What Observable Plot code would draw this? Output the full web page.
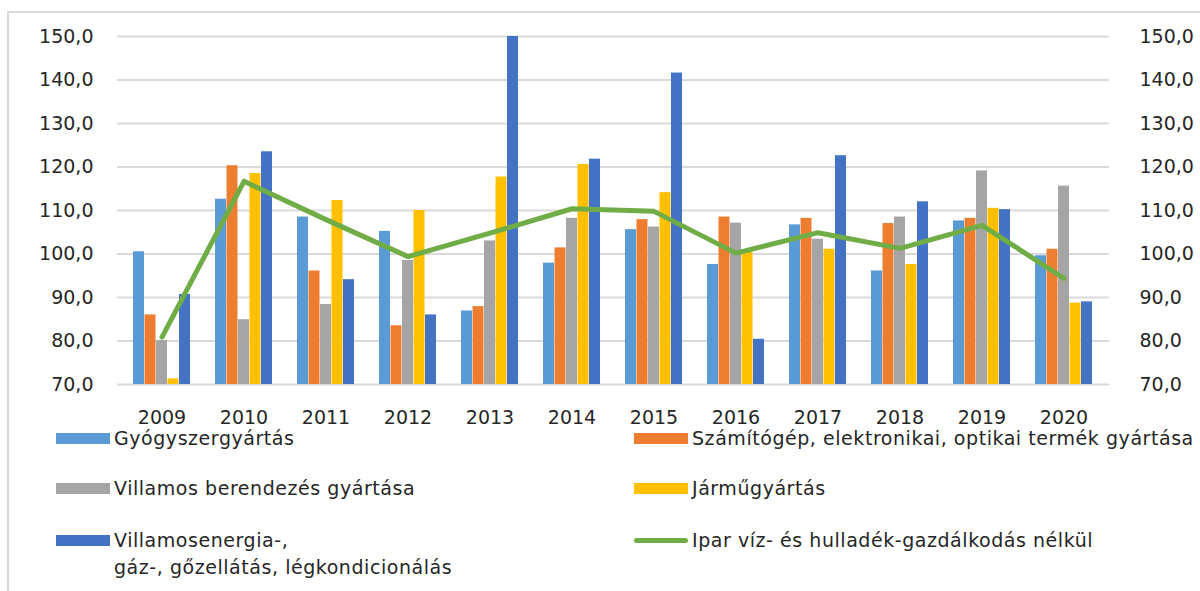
<!DOCTYPE html>
<html><head><meta charset="utf-8">
<script src="https://cdn.jsdelivr.net/npm/d3@7"></script>
<script src="https://cdn.jsdelivr.net/npm/@observablehq/plot@0.6"></script>
<style>
body{margin:0;background:#fff;}
#wrap{position:relative;width:1200px;height:591px;overflow:hidden;font-family:"DejaVu Sans",sans-serif;color:#262626;background:#fff;}
#frame{position:absolute;left:7px;top:11px;width:1300px;height:700px;border-left:2px solid #d9d9d9;border-top:2px solid #d9d9d9;}
#chart{position:absolute;left:0;top:0;}
.leg{position:absolute;font-size:19px;letter-spacing:0.55px;line-height:27px;white-space:nowrap;}
.sw{position:absolute;}
</style></head><body><div id="wrap"><div id="frame"></div><div id="chart"></div><div id="legend"></div></div>
<script>
const years = ["2009","2010","2011","2012","2013","2014","2015","2016","2017","2018","2019","2020"];
const gyogyszer = [100.5,112.6,108.5,105.2,86.9,97.9,105.6,97.6,106.7,96.1,107.6,99.6];
const szamitogep = [86.0,120.3,96.1,83.5,87.9,101.4,107.9,108.5,108.2,107.0,108.2,101.1];
const villamosBer = [80.1,84.9,88.4,98.5,103.0,108.2,106.2,107.1,103.4,108.5,119.1,115.6];
const jarmu = [71.3,118.5,112.3,110.0,117.7,120.6,114.1,100.4,101.1,97.6,110.5,88.7];
const villamosenergia = [90.7,123.5,94.1,86.0,150.0,121.8,141.6,80.4,122.6,112.0,110.2,89.0];
const ipar = [80.9,116.7,107.9,99.4,104.8,110.4,109.8,100.2,104.9,101.3,106.6,94.4];
const yTicks = [70,80,90,100,110,120,130,140,150];

const barSeries = [
  {name:"Gyógyszergyártás", values:gyogyszer, color:"#5B9BD5"},
  {name:"Számítógép, elektronikai, optikai termék gyártása", values:szamitogep, color:"#ED7D31"},
  {name:"Villamos berendezés gyártása", values:villamosBer, color:"#A5A5A5"},
  {name:"Járműgyártás", values:jarmu, color:"#FFC000"},
  {name:"Villamosenergia-,\ngáz-, gőzellátás, légkondicionálás", values:villamosenergia, color:"#4472C4"}
];
const lineSeries = {name:"Ipar víz- és hulladék-gazdálkodás nélkül", values:ipar, color:"#70AD47"};

const fmt = d => d.toFixed(1).replace(".", ",");
const barW = 11.5;
const marks = [
  Plot.ruleY(yTicks, {y: d => d, stroke:"#d9d9d9", strokeWidth:2})
];
barSeries.forEach((s, k) => {
  const data = years.map((y, i) => ({year:y, v:s.values[i]}));
  marks.push(Plot.barY(data, {x:"year", y1:70, y2:"v", fill:s.color, dx:(k-2)*barW, inset:0}));
});
const lineData = years.map((y, i) => ({year:y, v:ipar[i]}));
marks.push(Plot.lineY(lineData, {x:"year", y:"v", stroke:lineSeries.color, strokeWidth:5, strokeLinejoin:"round", strokeLinecap:"round"}));
marks.push(Plot.axisY(yTicks, {anchor:"left", tickSize:0, tickPadding:24, tickFormat:fmt, fontSize:19}));
marks.push(Plot.axisY(yTicks, {anchor:"right", tickSize:0, tickPadding:30, tickFormat:fmt, fontSize:19, textAnchor:"start"}));
marks.push(Plot.axisX({tickSize:0, tickPadding:26, fontSize:19}));

const chart = Plot.plot({
  width:1200, height:430,
  marginTop:36, marginBottom:46, marginLeft:117, marginRight:91,
  style:{fontFamily:"DejaVu Sans", fontSize:"19px", color:"#262626", background:"transparent", overflow:"visible"},
  x:{type:"band", domain:years, paddingInner:0.861, paddingOuter:0.4305, label:null},
  y:{domain:[70,150], label:null},
  marks
});
document.getElementById("chart").appendChild(chart);

// legend
const legend = document.getElementById("legend");
const rows = [438.5, 488.5, 540];
const cols = [56, 634];
const items = [
  {s:barSeries[0], col:0, row:0},
  {s:barSeries[1], col:1, row:0},
  {s:barSeries[2], col:0, row:1},
  {s:barSeries[3], col:1, row:1},
  {s:barSeries[4], col:0, row:2},
  {s:lineSeries, col:1, row:2, line:true}
];
items.forEach(it => {
  const x = cols[it.col], yc = rows[it.row];
  const sw = document.createElement("div");
  sw.className = "sw";
  if (it.line) {
    sw.style.cssText = `left:${x}px;top:${yc-2.5}px;width:54px;height:5px;border-radius:3px;background:${it.s.color}`;
  } else {
    sw.style.cssText = `left:${x}px;top:${yc-5.5}px;width:54px;height:11px;background:${it.s.color}`;
  }
  legend.appendChild(sw);
  const lines = it.s.name.split("\n");
  lines.forEach((ln, j) => {
    const t = document.createElement("div");
    t.className = "leg";
    t.textContent = ln;
    t.style.left = (x + 58) + "px";
    t.style.top = (yc - 13.5 + j*27) + "px";
    legend.appendChild(t);
  });
});
</script></body></html>
